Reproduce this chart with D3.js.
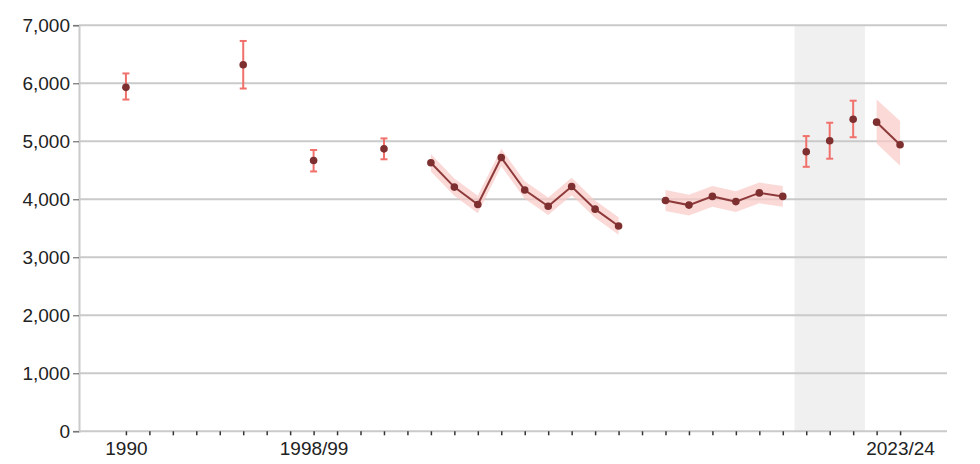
<!DOCTYPE html>
<html><head><meta charset="utf-8">
<script src="https://cdn.jsdelivr.net/npm/d3@7"></script>
<style>body{margin:0;background:#fff}svg{display:block;font-family:"Liberation Sans",Arial,sans-serif}</style>
</head><body><svg id="c" width="980" height="464"></svg>
<script>
const categories = ["1990","1991","1992","1993","1994","1995","1996","1997","1998/99","1999/00","2000/01","2001/02","2002/03","2003/04","2004/05","2005/06","2006/07","2007/08","2008/09","2009/10","2010/11","2011/12","2012/13","2013/14","2014/15","2015/16","2016/17","2017/18","2018/19","2019/20","2020/21","2021/22","2022/23","2023/24"];
const shownLabels = ["1990","1998/99","2023/24"];
const yTicks = [0,1000,2000,3000,4000,5000,6000,7000];
const shadedYears = ["2019/20","2021/22"];

const pointYears = ["1990","1995","1998/99","2001/02","2019/20","2020/21","2021/22"];
const pointValues = [5930,6320,4670,4870,4820,5010,5380];
const pointLow = [5720,5910,4480,4690,4560,4700,5070];
const pointHigh = [6170,6730,4850,5050,5090,5320,5700];

const s1Years = ["2003/04","2004/05","2005/06","2006/07","2007/08","2008/09","2009/10","2010/11","2011/12"];
const s1Values = [4630,4210,3910,4720,4160,3880,4220,3830,3540];
const s1Low = [4480,4060,3760,4570,4010,3730,4070,3680,3390];
const s1High = [4780,4360,4060,4870,4310,4030,4370,3980,3690];

const s2Years = ["2013/14","2014/15","2015/16","2016/17","2017/18","2018/19"];
const s2Values = [3980,3900,4050,3960,4110,4050];
const s2Low = [3800,3720,3870,3780,3930,3870];
const s2High = [4160,4080,4230,4140,4290,4230];

const s3Years = ["2022/23","2023/24"];
const s3Values = [5330,4940];
const s3Low = [4960,4580];
const s3High = [5720,5350];

(function(){
const svg = d3.select("#c");
const mLeft = 79, mRight = 947, mTop = 25.3, mBottom = 431.3;
const x = d3.scalePoint().domain(categories).range([mLeft, mRight]).padding(2);
const y = d3.scaleLinear().domain([0,7000]).range([mBottom, mTop]);

const step = x.step();
svg.append("rect").attr("x", x(shadedYears[0]) - step/2).attr("y", mTop)
  .attr("width", x(shadedYears[1]) - x(shadedYears[0]) + step).attr("height", mBottom - mTop)
  .attr("fill", "#f0f0f0");

svg.append("g").selectAll("line").data(yTicks.filter(d => d > 0)).join("line")
  .attr("x1", mLeft).attr("x2", mRight).attr("y1", d => y(d)).attr("y2", d => y(d))
  .attr("stroke", "#cacaca").attr("stroke-width", 2);

const yAxis = svg.append("g").attr("transform", `translate(${mLeft},0)`)
  .call(d3.axisLeft(y).tickValues(yTicks).tickFormat(d3.format(",")).tickSize(6).tickPadding(3));
yAxis.select(".domain").attr("stroke", "#cacaca").attr("stroke-width", 2);
yAxis.selectAll(".tick line").attr("stroke", "#555");
yAxis.selectAll("text").attr("font-size", 19).attr("fill", "#222").attr("font-family", "Liberation Sans, Arial, sans-serif");

const xAxis = svg.append("g").attr("transform", `translate(0,${mBottom})`)
  .call(d3.axisBottom(x).tickSize(4).tickSizeOuter(0).tickPadding(6)
    .tickFormat(d => shownLabels.includes(d) ? d : ""));
xAxis.select(".domain").attr("stroke", "#cacaca").attr("stroke-width", 2).attr("d", `M${mLeft},0H${mRight}`);
xAxis.selectAll(".tick line").attr("stroke", "#333").attr("stroke-width", 1.5);
xAxis.selectAll("text").attr("font-size", 19).attr("fill", "#222").attr("font-family", "Liberation Sans, Arial, sans-serif");

const series = [[s1Years,s1Values,s1Low,s1High],[s2Years,s2Values,s2Low,s2High],[s3Years,s3Values,s3Low,s3High]];
const area = d3.area().x(d => x(d.k)).y0(d => y(d.lo)).y1(d => y(d.hi));
const line = d3.line().x(d => x(d.k)).y(d => y(d.v));
series.forEach(([ks, vs, lo, hi]) => {
  const data = ks.map((k,i) => ({k, v: vs[i], lo: lo[i], hi: hi[i]}));
  svg.append("path").datum(data).attr("d", area).attr("fill", "#f8c9c6").attr("opacity", 0.7);
  svg.append("path").datum(data).attr("d", line).attr("fill", "none").attr("stroke", "#8e3a3a").attr("stroke-width", 2);
  svg.append("g").selectAll("circle").data(data).join("circle")
    .attr("cx", d => x(d.k)).attr("cy", d => y(d.v)).attr("r", 3.8).attr("fill", "#7e2f2f");
});

const ep = pointYears.map((k,i) => ({k, v: pointValues[i], lo: pointLow[i], hi: pointHigh[i]}));
const eg = svg.append("g").attr("stroke", "#f0716b").attr("stroke-width", 2);
ep.forEach(d => {
  eg.append("line").attr("x1", x(d.k)).attr("x2", x(d.k)).attr("y1", y(d.lo)).attr("y2", y(d.hi));
  eg.append("line").attr("x1", x(d.k)-3.5).attr("x2", x(d.k)+3.5).attr("y1", y(d.lo)).attr("y2", y(d.lo));
  eg.append("line").attr("x1", x(d.k)-3.5).attr("x2", x(d.k)+3.5).attr("y1", y(d.hi)).attr("y2", y(d.hi));
});
svg.append("g").selectAll("circle").data(ep).join("circle")
  .attr("cx", d => x(d.k)).attr("cy", d => y(d.v)).attr("r", 3.8).attr("fill", "#7e2f2f");
})();
</script></body></html>
